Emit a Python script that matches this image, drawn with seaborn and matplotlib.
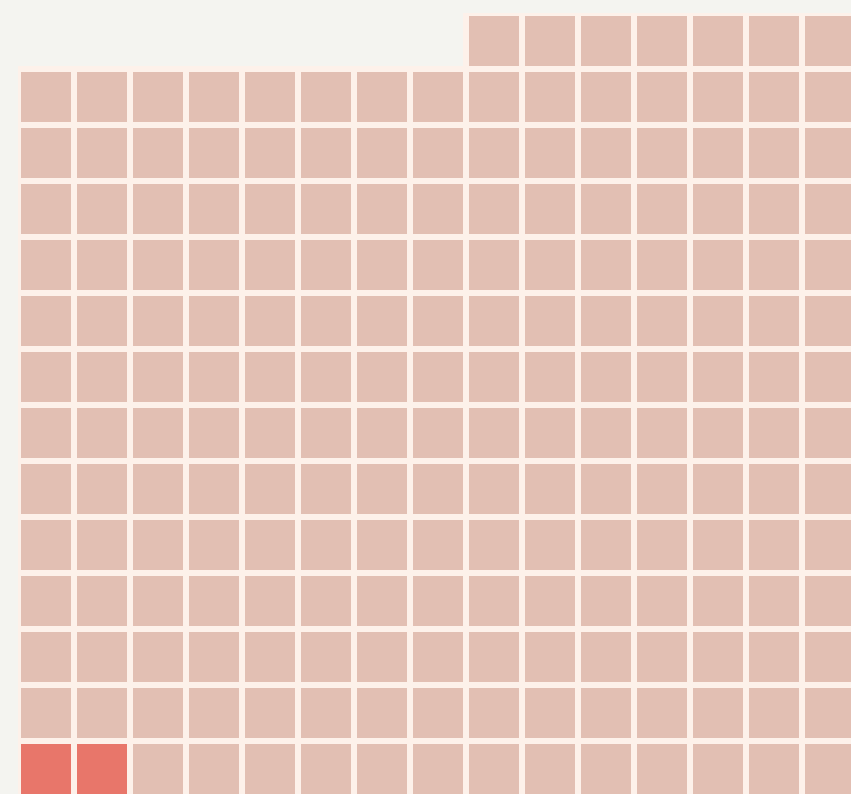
import numpy as np
import pandas as pd
import seaborn as sns
import matplotlib.pyplot as plt
from matplotlib.colors import ListedColormap, to_rgba

# waffle counts (visible part of the grid)
categories = ['highlight', 'other']
counts = [2, 200]
n_cols = 15
n_rows = 14

colors = ['#e2bfb3', '#e8766a']
bg = '#f4f4f0'
gap = '#fdf1ea'

# fill from bottom-left, row by row; last partial row sits at the right
codes = np.concatenate([np.full(c, i) for i, c in enumerate(counts)])
grid = np.full((n_rows, n_cols), np.nan)
k = 0
for r in range(n_rows - 1, -1, -1):
    left = len(codes) - k
    if left <= 0:
        break
    take = min(n_cols, left)
    start = 0 if take == n_cols else n_cols - take
    for c in range(take):
        grid[r, start + c] = codes[k]
        k += 1

# highlight code 0 -> dark, other code 1 -> light
vals = np.where(np.isnan(grid), np.nan, np.where(grid == 0, 1, 0))
df = pd.DataFrame(vals)

fig = plt.figure(figsize=(8.51, 7.94), dpi=100)
fig.patch.set_facecolor(bg)

W, H = 851, 794
pitch = 56
x0, y0 = 18, 13
ax = fig.add_axes([x0 / W, (H - y0 - n_rows * pitch) / H,
                   n_cols * pitch / W, n_rows * pitch / H])
ax.set_facecolor(bg)

sns.heatmap(df, mask=df.isna(), cmap=ListedColormap(colors), vmin=0, vmax=1,
            linewidths=4.3, linecolor=gap, cbar=False, ax=ax,
            xticklabels=False, yticklabels=False)

# no outline on empty cells
mesh = ax.collections[0]
ec = np.array([to_rgba(gap)] * (n_rows * n_cols))
ec[np.isnan(vals).ravel()] = to_rgba(bg, 0)
mesh.set_edgecolor(ec)

ax.set_xlim(0, n_cols)
ax.set_ylim(n_rows, 0)
for s in ax.spines.values():
    s.set_visible(False)

fig.savefig('out.png', dpi=100, facecolor=bg)
